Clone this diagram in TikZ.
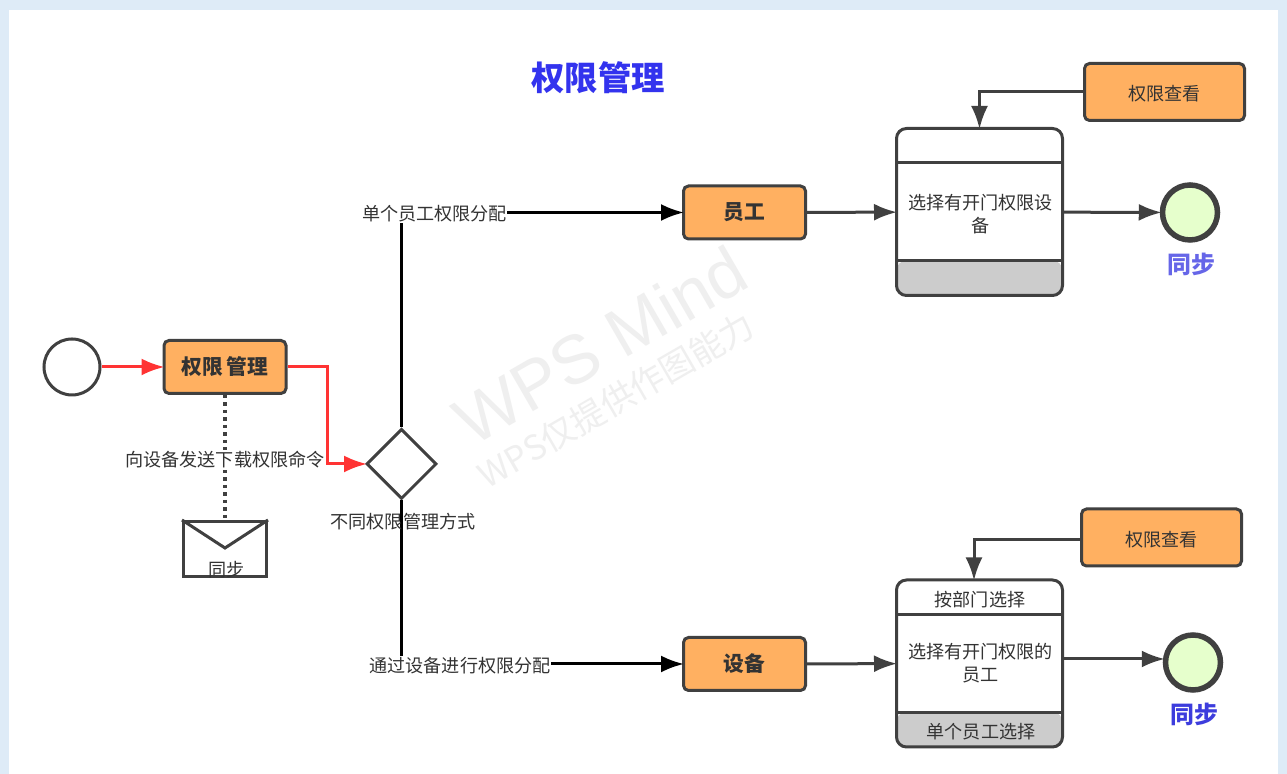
\documentclass[tikz,border=0pt]{standalone}
\usepackage{fontspec}
\setmainfont{Noto Sans CJK SC}
\newfontfamily\wmfont{Liberation Sans}
\usetikzlibrary{arrows.meta,shapes.geometric}
\definecolor{framebg}{HTML}{DEEBF7}
\definecolor{inkgray}{HTML}{404040}
\definecolor{taskorange}{HTML}{FFB061}
\definecolor{endgreen}{HTML}{E6FFCC}
\definecolor{redflow}{HTML}{FF3333}
\definecolor{lanegray}{HTML}{CCCCCC}
\definecolor{markgray}{HTML}{EFEFEF}
\definecolor{titleblue}{HTML}{3333EE}
\definecolor{syncblueA}{HTML}{6666E8}
\definecolor{syncblueB}{HTML}{3D3DDD}
\tikzset{
  >={Latex[length=.46cm,width=.34cm]},
  basetext/.style={text=black!80,font=\fontsize{10.3}{13}\selectfont},
  task/.style={draw=inkgray,fill=taskorange,line width=.06cm,rounded corners=.1cm,minimum width=2.44cm,minimum height=1.06cm,text=black!80,font=\fontsize{11.8}{13}\selectfont\bfseries},
  viewbox/.style={task,minimum width=3.2cm,minimum height=1.14cm,text height=.4cm,text depth=.04cm,font=\fontsize{10.3}{13}\selectfont,text=black!80},
  lane/.style={draw=inkgray,fill=white,line width=.06cm,rounded corners=.2cm,minimum width=3.32cm,minimum height=3.34cm,
    path picture={\fill[lanegray] ([yshift=.7cm]path picture bounding box.south west) rectangle (path picture bounding box.south east);}},
  lanetext/.style={basetext,align=center},
  flow/.style={->,draw=inkgray,line width=.06cm,shorten >=-.04cm},
  redflow/.style={->,draw=redflow,line width=.06cm,shorten >=-.04cm},
  blackflow/.style={->,draw=black,line width=.06cm,shorten >=-.04cm},
  sync/.style={circle,draw=inkgray,fill=endgreen,line width=.11cm,minimum size=1.1cm,inner sep=0},
  synctext/.style={font=\fontsize{13.6}{16}\selectfont\bfseries},
  flowlabel/.style={basetext,inner xsep=0,inner ysep=.02cm,fill=white}
}
\begin{document}
\begin{tikzpicture}
\useasboundingbox (0,0) rectangle (25.74,15.48);
\fill [framebg] (0,0) rectangle (25.74,15.48);
\fill [white] (.18,0) rectangle (25.56,15.28);

% watermark
\node [rotate=30,text=markgray,font=\wmfont\fontsize{39}{41}\selectfont] (markA) at (12,8.58) {WPS Mind};
\node [rotate=30,text=markgray,font=\fontsize{19.5}{22}\selectfont] (markB) at (12.32,7.48) {WPS仅提供作图能力};

\node [text=titleblue,font=\fontsize{19}{22}\selectfont\bfseries] (title) at (11.96,13.93) {权限管理};

% left part
\node [circle,draw=inkgray,fill=white,line width=.06cm,minimum size=1.12cm,inner sep=0] (start) at (1.44,8.14) {};
\node [task] (manage) at (4.5,8.14) {权限\hspace{.08cm}管理};
\node [diamond,draw=inkgray,fill=white,line width=.06cm,minimum width=1.4cm,minimum height=1.4cm,inner sep=0] (gate) at (8.03,6.2) {};
\node [draw=inkgray,fill=white,line width=.06cm,minimum width=1.66cm,minimum height=1.1cm,inner sep=0] (mail) at (4.5,4.5) {};
\draw [inkgray,line width=.06cm] (mail.north west) -- (4.5,4.52) -- (mail.north east);
\node [basetext] (mailtext) at (4.53,4.09) {同步};

\draw [redflow] (start) -- (manage);
\draw [redflow] (manage.east) -| ([xshift=-.76cm]gate.west) -- (gate.west);
\draw [inkgray,line width=.07cm,dash pattern=on .07cm off .08cm] (manage.south) -- (mail.north);
\node [flowlabel] (sendlabel) at (4.5,6.29) {向设备发送下载权限命令};

% right nodes
\node [task] (staff) at (14.89,11.23) {员工};
\node [task] (device) at (14.89,2.2) {设备};
\node [lane] (laneA) at (19.59,11.24) {};
\node [lane] (laneB) at (19.59,2.21) {};
\foreach \lanename in {laneA,laneB} {
  \draw [inkgray,line width=.06cm] ([yshift=-.72cm]\lanename.north west) -- ([yshift=-.72cm]\lanename.north east);
  \draw [inkgray,line width=.06cm] ([yshift=.72cm]\lanename.south west) -- ([yshift=.72cm]\lanename.south east);
}
\node [lanetext] (bodyA) at (19.61,11.2) {选择有开门权限设\\备};
\node [lanetext] (bodyB) at (19.61,2.22) {选择有开门权限的\\员工};
\node [basetext] (headB) at (19.6,3.48) {按部门选择};
\node [basetext] (footB) at (19.62,.84) {单个员工选择};
\node [viewbox] (viewA) at (23.29,13.64) {权限查看};
\node [viewbox] (viewB) at (23.23,4.73) {权限查看};
\node [sync] (endA) at (23.8,11.23) {};
\node [sync] (endB) at (23.86,2.23) {};
\node [synctext,text=syncblueA] (syncA) at (23.82,10.2) {同步};
\node [synctext,text=syncblueB] (syncB) at (23.88,1.2) {同步};

% connectors
\draw [blackflow] (gate.north) |- (staff.west);
\draw [blackflow] (gate.south) |- (device.west);
\node [flowlabel] (labelA) at (8.69,11.2) {单个员工权限分配};
\node [flowlabel] (labelB) at (9.2,2.17) {通过设备进行权限分配};
\node [basetext] (gatetext) at (8.06,5.04) {不同权限管理方式};
\draw [flow] (staff) -- (laneA);
\draw [flow] (device) -- (laneB);
\draw [flow] (laneA) -- (endA);
\draw [flow] ([yshift=.09cm]laneB.east) -- ([yshift=.07cm]endB.west);
\draw [flow] (viewA.west) -| (laneA.north);
\draw [flow] ([yshift=-.04cm]viewB.west) -| ([xshift=-.11cm]laneB.north);
\end{tikzpicture}
\end{document}
